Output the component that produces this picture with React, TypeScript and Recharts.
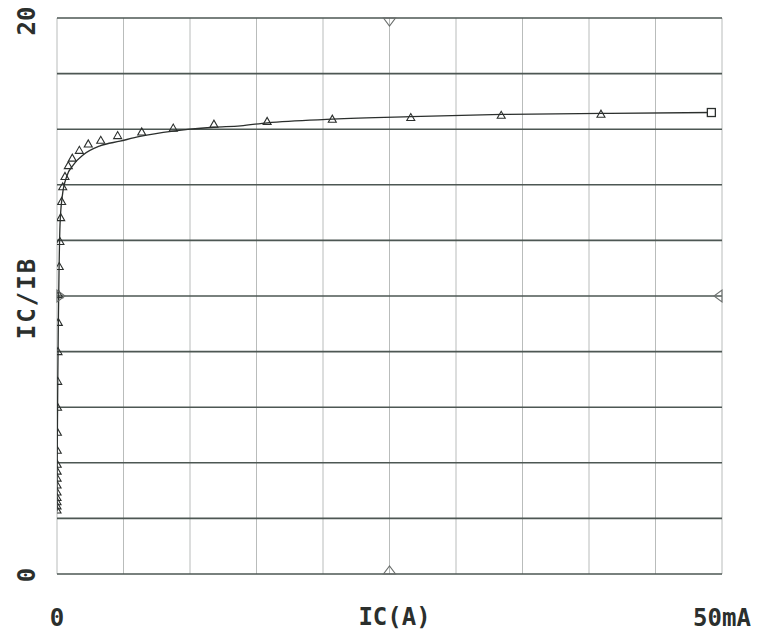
import React from 'react';
import {
  ComposedChart,
  Line,
  Scatter,
  XAxis,
  YAxis,
  ReferenceLine,
  ReferenceDot
} from 'recharts';

// measured points (triangles): IC in mA, IC/IB
const measuredIc = [
  0.001, 0.0015, 0.002, 0.003, 0.004, 0.006, 0.008, 0.011, 0.015, 0.02, 0.03,
  0.04, 0.055, 0.075, 0.1, 0.13, 0.17, 0.22, 0.28, 0.35, 0.43, 0.6, 0.85, 1.15,
  1.68, 2.35, 3.29, 4.56, 6.37, 8.74, 11.8, 15.8, 20.7, 26.6, 33.4, 40.9
];
const measuredBeta = [
  2.3, 2.45, 2.6, 2.75, 2.95, 3.2, 3.45, 3.7, 3.95, 4.45, 5.1,
  6.0, 6.93, 8.0, 9.05, 10.05, 11.06, 11.96, 12.82, 13.4, 13.93, 14.3, 14.69, 14.96,
  15.24, 15.47, 15.6, 15.77, 15.9, 16.04, 16.18, 16.28, 16.36, 16.42, 16.5, 16.54
];

// simulated trace (solid line)
const curveIc = [
  0.001, 0.01, 0.03, 0.06, 0.1, 0.15, 0.23, 0.4, 0.73, 1.23, 1.98, 3.23, 4.74,
  6.24, 8.74, 10.0, 11.8, 13.8, 15.8, 20.7, 26.6, 33.5, 41.0, 49.2
];
const curveBeta = [
  2.25, 3.6, 5.1, 7.0, 9.0, 10.8, 12.6, 13.6, 14.3, 14.72, 15.08, 15.4, 15.57,
  15.74, 15.93, 16.0, 16.07, 16.12, 16.23, 16.36, 16.45, 16.53, 16.57, 16.6
];

const xTicks = [0, 50];
const yTicks = [0, 20];
const xGrid = [0, 5, 10, 15, 20, 25, 30, 35, 40, 45, 50];
const yGrid = [0, 2, 4, 6, 8, 10, 12, 14, 16, 18, 20];

// cursor marks on the frame: [x, y, direction]
const cursorMarks: Array<[number, number, string]> = [
  [25, 20, 'down'],
  [25, 0, 'up'],
  [0, 10, 'right'],
  [50, 10, 'left']
];

const measured = measuredIc.map((x, i) => ({ x, y: measuredBeta[i] }));
const curve = curveIc.map((x, i) => ({ x, y: curveBeta[i] }));

const ink = '#2b2f2d';
const darkGrid = '#4d5753';
const lightGrid = '#b9bcbb';
const font = '"DejaVu Sans Mono", monospace';

const Triangle = (props: any) => {
  const { cx, cy } = props;
  if (cx == null || cy == null) return <g />;
  return (
    <path
      d={`M${cx - 4},${cy + 3} L${cx + 4},${cy + 3} L${cx},${cy - 4} Z`}
      fill="none"
      stroke={ink}
      strokeWidth={1.1}
    />
  );
};

const EndSquare = (props: any) => {
  const { cx, cy, index } = props;
  if (index !== curve.length - 1) return <g key={`d-${index}`} />;
  return (
    <rect key={`d-${index}`} x={cx - 4} y={cy - 4} width={8} height={8} fill="#fff" stroke={ink} strokeWidth={1.3} />
  );
};

const cursorShape = (dir: string) => (props: any) => {
  const { cx, cy } = props;
  let d = '';
  if (dir === 'down') d = `M${cx - 6},${cy} L${cx + 6},${cy} L${cx},${cy + 8} Z`;
  if (dir === 'up') d = `M${cx - 6},${cy} L${cx + 6},${cy} L${cx},${cy - 8} Z`;
  if (dir === 'right') d = `M${cx},${cy - 6} L${cx},${cy + 6} L${cx + 8},${cy} Z`;
  if (dir === 'left') d = `M${cx},${cy - 6} L${cx},${cy + 6} L${cx - 8},${cy} Z`;
  return <path d={d} fill="none" stroke="#6b6f6d" strokeWidth={1.1} />;
};

const XTick = (props: any) => {
  const { x, y, payload } = props;
  return (
    <text x={x} y={y + 44} textAnchor="middle" fontFamily={font} fontWeight="bold" fontSize={24} fill={ink}>
      {payload.value === 0 ? '0' : `${payload.value}mA`}
    </text>
  );
};

const YTick = (props: any) => {
  const { payload } = props;
  const cx = 19;
  const cy = payload.value === 20 ? 13 : 567;
  return (
    <text
      x={cx}
      y={cy}
      transform={`rotate(-90 ${cx} ${cy})`}
      textAnchor="middle"
      dominantBaseline="central"
      fontFamily={font}
      fontWeight="bold"
      fontSize={24}
      fill={ink}
    >
      {String(payload.value)}
    </text>
  );
};

const YTitle = (props: any) => {
  const vb = props.viewBox || {};
  const cx = 19;
  const cy = (vb.y ?? 10) + (vb.height ?? 556) / 2 + 2;
  return (
    <text
      x={cx}
      y={cy}
      transform={`rotate(-90 ${cx} ${cy})`}
      textAnchor="middle"
      dominantBaseline="central"
      fontFamily={font}
      fontWeight="bold"
      fontSize={24}
      letterSpacing={2}
      fill={ink}
    >
      IC/IB
    </text>
  );
};

export default function App() {
  return (
    <ComposedChart
      width={751}
      height={625}
      margin={{ top: 10, right: 37, left: 0, bottom: 0 }}
      style={{ background: '#fff' }}
    >
      <XAxis
        dataKey="x"
        type="number"
        domain={[0, 50]}
        ticks={xTicks}
        tick={<XTick />}
        tickLine={false}
        axisLine={false}
        height={59}
        allowDataOverflow
        label={{
          value: 'IC(A)',
          position: 'insideBottom',
          offset: 8,
          dx: 5,
          fontFamily: font,
          fontWeight: 'bold',
          fontSize: 24,
          fill: ink
        }}
      />
      <YAxis
        type="number"
        domain={[0, 20]}
        ticks={yTicks}
        tick={<YTick />}
        tickLine={false}
        axisLine={false}
        width={49}
        allowDataOverflow
        label={<YTitle />}
      />
      {xGrid.map((v) => (
        <ReferenceLine key={`vx-${v}`} x={v} stroke={lightGrid} strokeWidth={1} ifOverflow="extendDomain" />
      ))}
      {yGrid.map((v) => (
        <ReferenceLine key={`hy-${v}`} y={v} stroke={darkGrid} strokeWidth={1.6} ifOverflow="extendDomain" />
      ))}
      <Line
        data={curve}
        dataKey="y"
        type="monotone"
        stroke={ink}
        strokeWidth={1.3}
        dot={EndSquare}
        activeDot={false}
        isAnimationActive={false}
      />
      <Scatter data={measured} dataKey="y" shape={Triangle} isAnimationActive={false} />
      {cursorMarks.map(([x, y, dir]) => (
        <ReferenceDot key={`c-${dir}`} x={x} y={y} r={6} shape={cursorShape(dir)} ifOverflow="visible" />
      ))}
    </ComposedChart>
  );
}
